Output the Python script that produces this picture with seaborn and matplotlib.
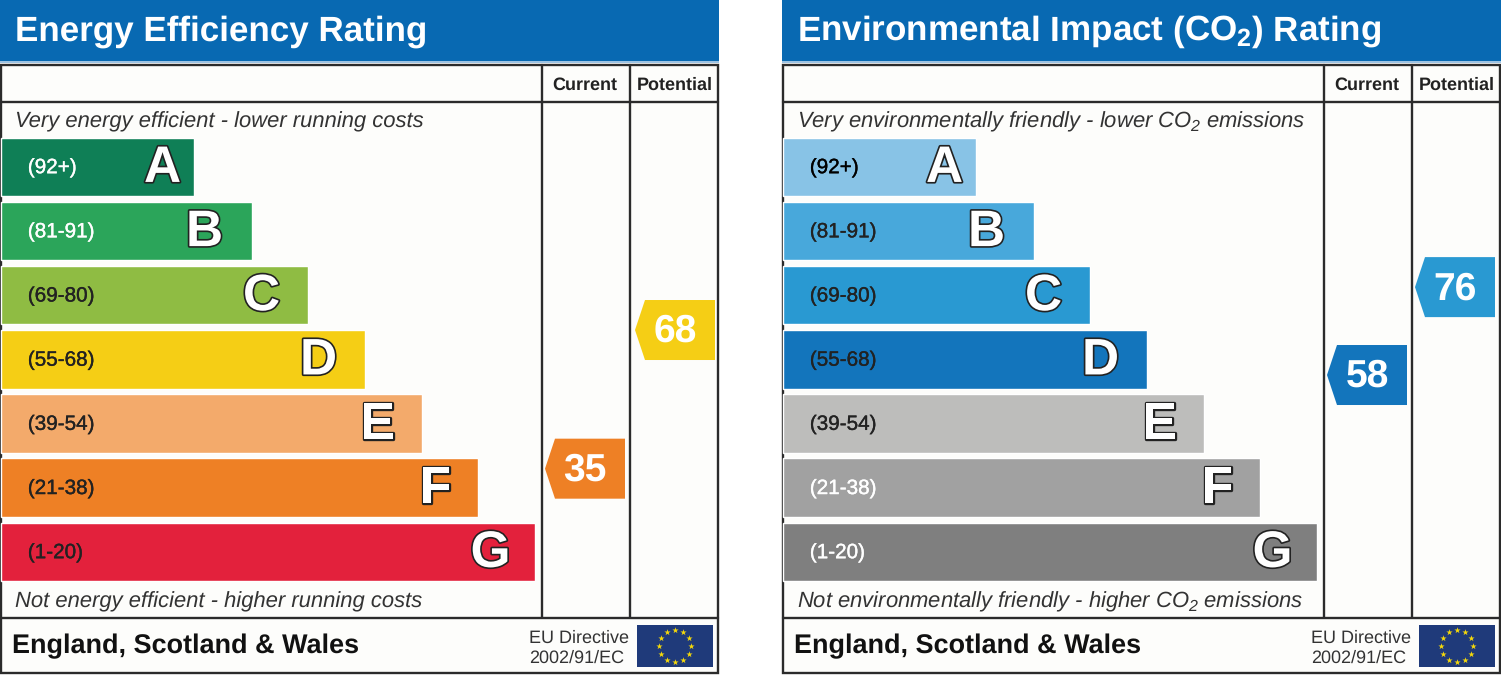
import numpy as np
import matplotlib
matplotlib.use('Agg')
import matplotlib.pyplot as plt
import matplotlib.patheffects as pe
from matplotlib.patches import Polygon, Rectangle
import seaborn as sns

# Data
letters = ['A', 'B', 'C', 'D', 'E', 'F', 'G']
ranges = ['(92+)', '(81-91)', '(69-80)', '(55-68)', '(39-54)', '(21-38)', '(1-20)']
band_low = [92, 81, 69, 55, 39, 21, 1]
band_high = [100, 91, 80, 68, 54, 38, 20]
bar_lengths = [193, 251, 307, 364, 421, 477, 534]

energy_colors = ['#0F7F56', '#2BA55A', '#8FBC43', '#F5CE15', '#F3AA6B', '#EE8025', '#E3213C']
env_colors = ['#88C3E6', '#48A8DB', '#2999D2', '#1375BC', '#BDBDBB', '#A1A1A1', '#7F7F7F']
energy_range_colors = ['white', 'white', '#222222', '#222222', '#222222', '#222222', '#222222']
env_range_colors = ['black', '#222222', '#222222', '#222222', '#222222', 'white', 'white']

energy_current = 35
energy_potential = 68
env_current = 58
env_potential = 76

W, H = 1501, 675
BAR_TOP, PITCH, BAR_H = 137.5, 64.17, 58.5
BASE = 1.4
letter_inset = [32, 48, 47, 47, 45, 43, 45]

sns.set_theme(style='white')
plt.rcParams['font.family'] = ['Liberation Sans', 'DejaVu Sans']
plt.rcParams['mathtext.default'] = 'regular'
plt.rcParams['text.hinting'] = 'none'
plt.rcParams['text.hinting_factor'] = 1

fig = plt.figure(figsize=(W / 100, H / 100), dpi=100, facecolor='white')
frame = fig.add_axes([0, 0, 1, 1])
frame.set_xlim(0, W)
frame.set_ylim(H, 0)
frame.axis('off')


def value_y(value):
    # tag height follows the value inside its band
    for i in range(len(letters)):
        if band_low[i] <= value <= band_high[i]:
            frac = (band_high[i] - value) / (band_high[i] - band_low[i])
            return i - BAR_H / PITCH / 2 + frac * BAR_H / PITCH


def draw_tag(ax, x0, value, colors):
    y = value_y(value)
    band = int(round(y))
    color = colors[band]
    half = 30 / PITCH
    ax.add_patch(Polygon([(x0, y), (x0 + 10, y - half), (x0 + 80, y - half),
                          (x0 + 80, y + half), (x0 + 10, y + half)], closed=True,
                         facecolor=color, edgecolor='none', zorder=5))
    ax.text(x0 + 40, y + 2 / PITCH, str(value), color='white', fontsize=28, fontweight='bold',
            ha='center', va='center', zorder=6)


def draw_panel(left, title, top_note, bottom_note, colors, range_colors, current, potential, pot_x):
    # frame, header and footer in pixel coordinates
    frame.add_patch(Rectangle((left, 0), 719, 61, facecolor='#0869B2', edgecolor='none'))
    frame.add_patch(Rectangle((left, 61), 719, 2, facecolor='#9DC3E2', edgecolor='none'))
    frame.add_patch(Rectangle((left + 1, 65), 717, 608, facecolor='#FDFDFB',
                              edgecolor='#2B2B2B', linewidth=1.7))
    frame.plot([left + 1, left + 718], [102, 102], color='#2B2B2B', lw=1.7)
    frame.plot([left + 1, left + 718], [617.5, 617.5], color='#2B2B2B', lw=1.7)
    frame.plot([left + 542, left + 542], [65, 617], color='#2B2B2B', lw=1.7)
    frame.plot([left + 630, left + 630], [65, 617], color='#2B2B2B', lw=1.7)

    frame.text(left + 15, 32, title, color='white', fontsize=25.45, fontweight='bold',
               ha='left', va='center')
    frame.text(left + 585, 85.5, 'Current', color='#222222', fontsize=13, fontweight='bold',
               ha='center', va='center')
    frame.text(left + 674.5, 85.5, 'Potential', color='#222222', fontsize=13, fontweight='bold',
               ha='center', va='center')
    frame.text(left + 15, 122, top_note, color='#333333', fontsize=16.2, style='italic',
               ha='left', va='center')
    frame.text(left + 15, 602, bottom_note, color='#333333', fontsize=16.2, style='italic',
               ha='left', va='center')
    frame.text(left + 12, 646.5, 'England, Scotland & Wales', color='#111111', fontsize=19.65,
               fontweight='bold', ha='left', va='center')
    frame.text(left + 529, 638, 'EU Directive', color='#333333', fontsize=12.9, ha='left', va='center')
    frame.text(left + 529, 658, '2002/91/EC', color='#333333', fontsize=12.9, ha='left', va='center')

    # flag
    frame.add_patch(Rectangle((left + 637, 625), 76, 42, facecolor='#1F3A7A', edgecolor='none'))
    ang = np.arange(12) * np.pi / 6
    frame.scatter(left + 675 + 16 * np.sin(ang), 646 - 16 * np.cos(ang), marker='*', s=22,
                  color='#F5D90A', linewidths=0, zorder=4)

    # bars on their own axes, x in pixels from the bar base, y in band positions
    ax = fig.add_axes([left / W, 0, 719 / W, 1])
    ax.patch.set_alpha(0)
    sns.barplot(x=bar_lengths, y=letters, hue=letters, palette=colors, orient='h', width=BAR_H / PITCH,
                saturation=1, legend=False, ax=ax)
    first = BAR_TOP + BAR_H / 2
    ax.set_xlim(-BASE, 719 - BASE)
    ax.set_ylim((H - first) / PITCH, -first / PITCH)
    ax.axis('off')

    for i in range(len(letters)):
        ax.text(26.4, i + 1 / PITCH, ranges[i], color=range_colors[i], fontsize=14.9, ha='left', va='center',
                path_effects=[pe.withStroke(linewidth=0.25, foreground=range_colors[i])])
        ax.text(bar_lengths[i] - letter_inset[i], i + 2 / PITCH, letters[i], color='white', fontsize=37,
                fontweight='bold', ha='center', va='center',
                path_effects=[pe.withStroke(linewidth=2.4, foreground='#222222')])

    draw_tag(ax, 543.6, current, colors)
    draw_tag(ax, pot_x, potential, colors)


draw_panel(0, 'Energy Efficiency Rating', 'Very energy efficient - lower running costs',
           'Not energy efficient - higher running costs', energy_colors, energy_range_colors,
           energy_current, energy_potential, 633.6)
draw_panel(782, 'Environmental Impact (CO$_2$) Rating', 'Very environmentally friendly - lower CO$_2$ emissions',
           'Not environmentally friendly - higher CO$_2$ emissions', env_colors, env_range_colors,
           env_current, env_potential, 631.6)

fig.savefig('out.png', dpi=100)
